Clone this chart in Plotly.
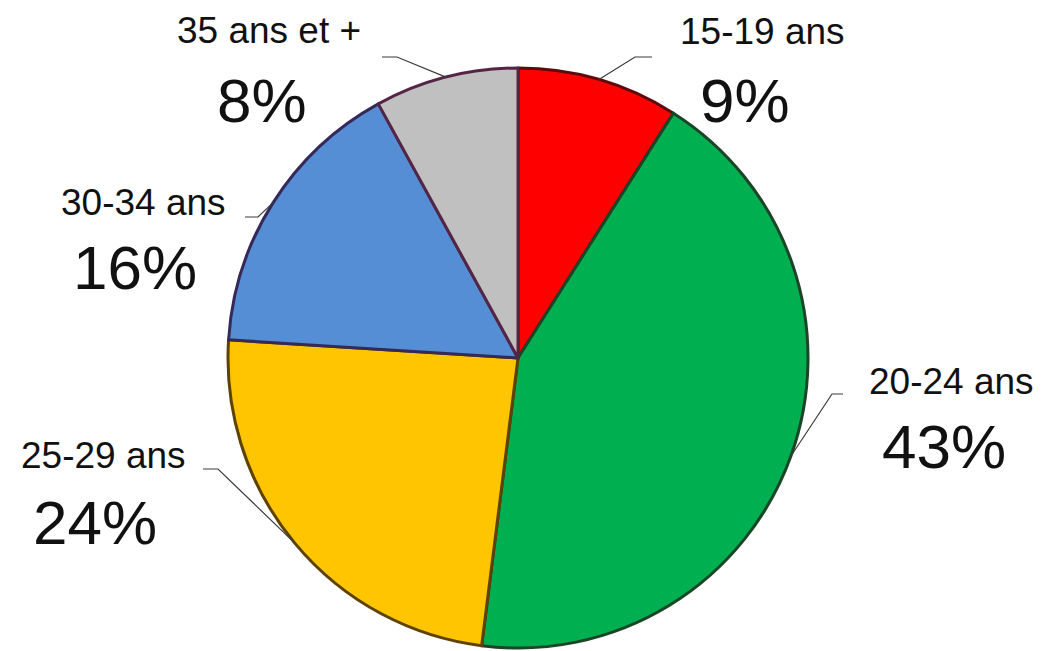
import numpy as np
import plotly.graph_objects as go

# data
labels = ["15-19 ans", "20-24 ans", "25-29 ans", "30-34 ans", "35 ans et +"]
values = [9, 43, 24, 16, 8]
colors = ["#FF0000", "#00B050", "#FFC500", "#558ED5", "#C0C0C0"]
edge_colors = ["#5e0a0a", "#1a4526", "#5e4200", "#35295a", "#552545"]

W, H = 1045, 651
cx, cy, R = 518, 358, 290  # pie centre / radius in pixels

# label placement (pixels): name centre, pct centre, elbow start, elbow end
name_pos = [(762, 31), (951, 381), (103, 455), (143, 203), (269, 30)]
pct_pos = [(745, 101), (944, 446), (95, 522), (135, 268), (262, 101)]
elbow = [((652, 57), (635, 57)), ((843, 394), (832, 394)), ((203, 469), (218, 469)),
         ((245, 217), (258, 217)), ((382, 57), (397, 57))]

def px(x):
    return x / W

def py(y):
    return 1 - y / H

fig = go.Figure()
fig.add_trace(go.Pie(
    labels=labels, values=values, sort=False, direction="clockwise", rotation=0,
    marker=dict(colors=colors, line=dict(color=edge_colors, width=3)),
    textinfo="none", hoverinfo="label+percent", showlegend=False,
    domain=dict(x=[px(cx - R), px(cx + R)], y=[py(cy + R), py(cy - R)]),
))

# mid-angles of slices (clockwise from 12 o'clock)
total = sum(values)
cum = np.cumsum([0] + values)
shapes = []
annotations = []
for i, lab in enumerate(labels):
    mid = (cum[i] + values[i] / 2) / total * 2 * np.pi
    ex = cx + R * np.sin(mid)
    ey = cy - R * np.cos(mid)
    (x0, y0), (x1, y1) = elbow[i]
    shapes.append(dict(type="path", xref="paper", yref="paper",
                       path=f"M {px(x0)},{py(y0)} L {px(x1)},{py(y1)} L {px(ex)},{py(ey)}",
                       line=dict(color="#3a3a3a", width=1.2)))
    annotations.append(dict(x=px(name_pos[i][0]), y=py(name_pos[i][1]), xref="paper", yref="paper",
                            text=lab, showarrow=False, xanchor="center", yanchor="middle",
                            font=dict(family="Liberation Sans, Arial", size=37, color="#111111")))
    annotations.append(dict(x=px(pct_pos[i][0]), y=py(pct_pos[i][1]), xref="paper", yref="paper",
                            text=f"{values[i]}%", showarrow=False, xanchor="center", yanchor="middle",
                            font=dict(family="Liberation Sans, Arial", size=62, color="#111111")))

fig.update_layout(
    width=W, height=H, margin=dict(l=0, r=0, t=0, b=0),
    paper_bgcolor="white", plot_bgcolor="white",
    shapes=shapes, annotations=annotations,
)

fig.write_html("out.html", config={"displayModeBar": False},
               post_script="document.body.style.margin='0';")
